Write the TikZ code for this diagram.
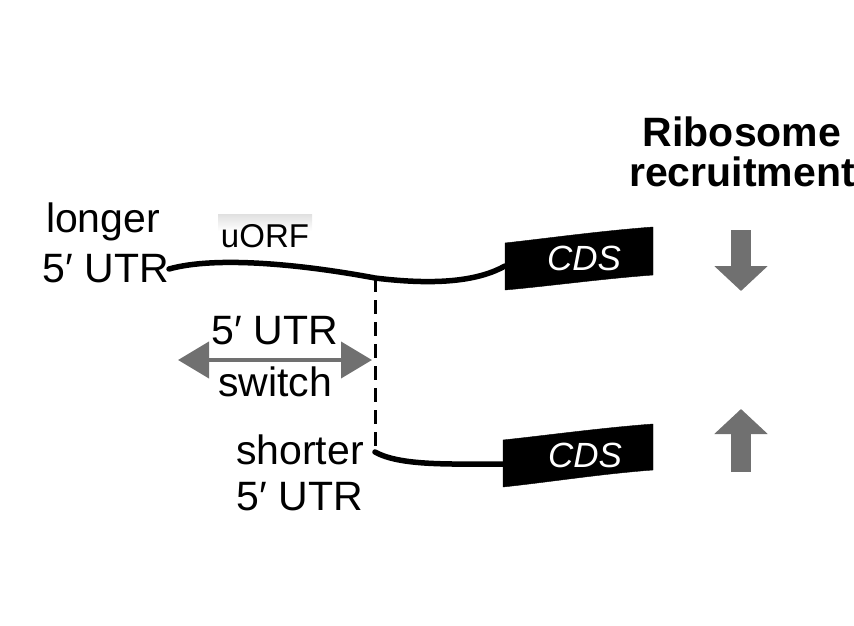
\documentclass[tikz,border=0pt]{standalone}
\usepackage{fontspec}
\setmainfont{Liberation Sans}
\usetikzlibrary{arrows.meta}
\definecolor{arrowgray}{RGB}{112,112,112}
\begin{document}
\begin{tikzpicture}[
		x=1pt, y=-1pt,
		every node/.style={inner sep=0, font=\fontsize{41}{44}\selectfont},
		rna/.style={line width=5.5, line cap=round},
		cdsbox/.style={fill=black},
		cdslabel/.style={text=white, font=\fontsize{35}{37}\selectfont\itshape},
		switcharrow/.style={draw=arrowgray, line width=4, {Triangle[length=31,width=36]}-{Triangle[length=31,width=36]}, arrowgray},
		levelarrow/.style={draw=arrowgray, line width=20, -{Triangle[length=25,width=52]}, arrowgray},
	]
	\useasboundingbox (0,0) rectangle (854,626);
	% heading
	\node[font=\fontsize{41}{44}\selectfont\bfseries, align=center] (ribo) at (742,152) {Ribosome\\[-4pt]recruitment};
	% longer 5' UTR
	\node (longer) at (103,222) {longer};
	\node[anchor=east] (utrlong) at (169,269) {5\char"2032\ UTR};
	\shade[top color=black!12, bottom color=white] (218,214) rectangle (312,231);
	\node[font=\fontsize{33}{35}\selectfont] (uorf) at (265,236) {uORF};
	\filldraw[cdsbox] (505,243) .. controls (550,238) and (600,231) .. (653,227) -- (653,275) .. controls (600,279) and (550,286) .. (505,290) -- cycle;
	\node[cdslabel] (cdsa) at (584,258) {CDS};
	\coordinate (cdsaw) at (505,266);
	\coordinate (branch) at (375,278);
	\draw[rna] (utrlong.east) .. controls (215,256) and (300,264) .. (branch) .. controls (440,286) and (480,280) .. (cdsaw);
	% switch
	\coordinate (switchl) at (178,360);
	\coordinate (switchr) at (372,360);
	\draw[switcharrow] (switchl) -- (switchr);
	\node (swtop) at (275,331) {5\char"2032\ UTR};
	\node (swbot) at (275,382) {switch};
	% shorter 5' UTR
	\coordinate (start) at (375,452);
	\draw[line width=3, dash pattern=on 14pt off 8pt] (branch) -- (start);
	\node (shorter) at (300,450) {shorter};
	\node (utrshort) at (300,497) {5\char"2032\ UTR};
	\filldraw[cdsbox] (503,440) .. controls (550,435) and (600,428) .. (653,424) -- (653,470) .. controls (600,474) and (550,482) .. (503,487) -- cycle;
	\node[cdslabel] (cdsb) at (585,455) {CDS};
	\coordinate (cdsbw) at (504,464);
	\draw[rna] (start) .. controls (400,466) and (450,464) .. (cdsbw);
	% recruitment
	\coordinate (downtop) at (741,230);
	\coordinate (downtip) at (741,291);
	\coordinate (upbot) at (741,472);
	\coordinate (uptip) at (741,409);
	\draw[levelarrow] (downtop) -- (downtip);
	\draw[levelarrow] (upbot) -- (uptip);
\end{tikzpicture}
\end{document}
